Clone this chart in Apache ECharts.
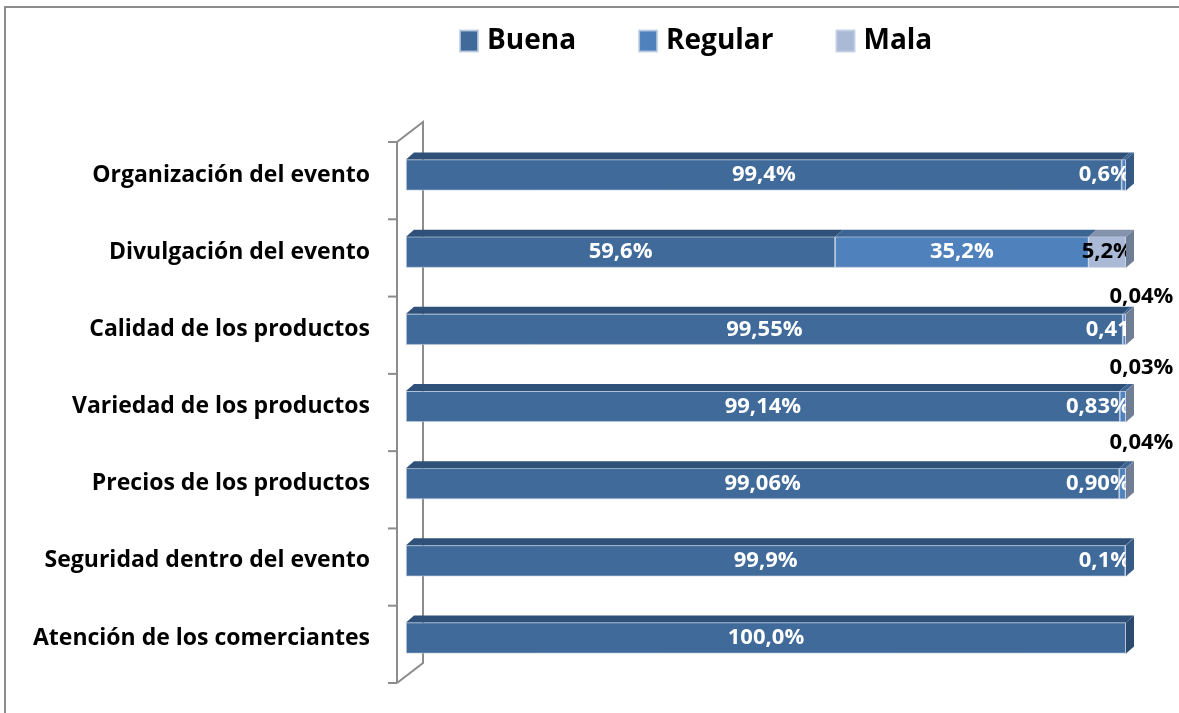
<!DOCTYPE html>
<html>
<head>
<meta charset="utf-8">
<script src="https://cdn.jsdelivr.net/npm/echarts@6/dist/echarts.min.js"></script>
<style>
    html, body {margin: 0; padding: 0; background: #fff;}
    #chart {width: 1179px; height: 713px;}
</style>
</head>
<body>
<div id="chart"></div>
<script>
var categorias = ['Organización del evento', 'Divulgación del evento', 'Calidad de los productos',
    'Variedad de los productos', 'Precios de los productos', 'Seguridad dentro del evento',
    'Atención de los comerciantes'];
var buena = [99.4, 59.6, 99.55, 99.14, 99.06, 99.9, 100.0];
var regular = [0.6, 35.2, 0.41, 0.83, 0.90, 0.1, 0];
var mala = [0, 5.2, 0.04, 0.03, 0.04, 0, 0];
var textoBuena = ['99,4%', '59,6%', '99,55%', '99,14%', '99,06%', '99,9%', '100,0%'];
var textoRegular = ['0,6%', '35,2%', '0,41', '0,83%', '0,90%', '0,1%', ''];
var textoMala = ['', '5,2%', '0,04%', '0,03%', '0,04%', '', ''];
var nombres = ['Buena', 'Regular', 'Mala'];

var myChart = echarts.init(document.getElementById('chart'));
var fuente = 'Open Sans';
var colors = ['#3F6A9A', '#4F81BD', '#A9B9D6'];
var topColors = ['#2F5078', '#3D6594', '#8393AC'];
var sideColors = ['#2C496E', '#365A86', '#6F7E95'];
var BAR = 31, DX = 8, DY = 7;

// etiquetas: las grandes van centradas, las chicas pegadas al borde derecho
var barData = function (vals, textos, serie) {
    return vals.map(function (v, i) {
        var item = {value: v, texto: textos[i]};
        if (v >= 5) {
            item.label = {position: 'inside'};
        } else if (serie == 2 && v < 1) {
            var dy = [0, 0, -17, -23, -25, 0, 0][i];
            item.label = {position: [16, dy], align: 'center', verticalAlign: 'middle', color: '#000'};
        } else {
            item.label = {position: 'insideRight', distance: 0, offset: [4, 0]};
        }
        return item;
    });
};

var caras = [];
categorias.forEach(function (c, i) {
    var segs = [buena[i], regular[i], mala[i]];
    var acc = 0, ultimo = 0;
    segs.forEach(function (v, k) { if (v > 0) ultimo = k; });
    segs.forEach(function (v, k) {
        if (v > 0) {
            caras.push([acc, acc + v, i, k, k == ultimo ? 1 : 0]);
        }
        acc += v;
    });
});

var labelBase = {
    show: true,
    fontFamily: fuente,
    fontWeight: 'bold',
    fontSize: 22,
    color: '#fff',
    formatter: function (p) { return p.data.texto; }
};

var series = [buena, regular, mala].map(function (vals, k) {
    return {
        name: nombres[k],
        type: 'bar',
        stack: 'total',
        barWidth: BAR,
        z: 2,
        itemStyle: {color: colors[k], borderColor: 'rgba(190,205,225,0.8)', borderWidth: 0.8},
        label: Object.assign({}, labelBase, k == 2 ? {color: '#000'} : {}),
        data: barData(vals, [textoBuena, textoRegular, textoMala][k], k)
    };
});

// caras superior y lateral (efecto 3D)
series.push({
    type: 'custom',
    z: 3,
    silent: true,
    encode: {x: [0, 1], y: 2},
    data: caras,
    renderItem: function (params, api) {
        var p0 = api.coord([api.value(0), api.value(2)]);
        var p1 = api.coord([api.value(1), api.value(2)]);
        var k = api.value(3);
        var yT = p0[1] - BAR / 2, yB = p0[1] + BAR / 2;
        var children = [{
            type: 'polygon',
            shape: {points: [[p0[0], yT], [p1[0], yT], [p1[0] + DX, yT - DY], [p0[0] + DX, yT - DY]]},
            style: {fill: topColors[k]}
        }];
        if (api.value(4) == 1) {
            children.push({
                type: 'polygon',
                shape: {points: [[p1[0], yT], [p1[0] + DX, yT - DY], [p1[0] + DX, yB - DY], [p1[0], yB]]},
                style: {fill: sideColors[k]}
            });
        }
        return {type: 'group', children: children};
    }
});

// paredes del eje
series.push({
    type: 'custom',
    z: 1,
    silent: true,
    data: [[0, 0]],
    encode: {x: 0, y: 1},
    renderItem: function (params, api) {
        var cs = params.coordSys;
        var fx = cs.x - 9, fy0 = cs.y + 5.6, fy1 = cs.y + cs.height + 6.4;
        var bx = cs.x + 17, by0 = fy0 - 20, by1 = fy1 - 20;
        var st = {stroke: '#8C8C8C', lineWidth: 2, fill: null};
        var children = [
            {type: 'polyline', shape: {points: [[fx, fy1], [fx, fy0], [bx, by0], [bx, by1], [fx, fy1]]}, style: st}
        ];
        var n = categorias.length;
        for (var j = 0; j <= n; j++) {
            var y = fy0 + (fy1 - fy0) * j / n;
            children.push({type: 'line', shape: {x1: fx - 9, y1: y, x2: fx, y2: y}, style: st});
        }
        return {type: 'group', children: children};
    }
});

var option = {
    backgroundColor: '#fff',
    animation: false,
    color: colors,
    legend: {
        data: nombres,
        top: 22,
        left: 454,
        itemWidth: 18,
        itemHeight: 21,
        itemGap: 62,
        icon: 'rect',
        textStyle: {fontFamily: fuente, fontWeight: 'bold', fontSize: 28, color: '#000', padding: [0, 0, 0, 4]}
    },
    grid: {left: 406, right: 53, top: 136.4, bottom: 36.4},
    xAxis: {
        type: 'value',
        min: 0,
        max: 100,
        show: false
    },
    yAxis: {
        type: 'category',
        inverse: true,
        data: categorias,
        axisLine: {show: false},
        axisTick: {show: false},
        axisLabel: {
            margin: 36,
            fontFamily: fuente,
            fontWeight: 'bold',
            fontSize: 23,
            color: '#000'
        }
    },
    graphic: [{
        type: 'rect',
        shape: {x: 5, y: 7, width: 1300, height: 800},
        style: {fill: null, stroke: '#8C8C8C', lineWidth: 2},
        silent: true
    }],
    series: series
};
myChart.setOption(option);
</script>
</body>
</html>
